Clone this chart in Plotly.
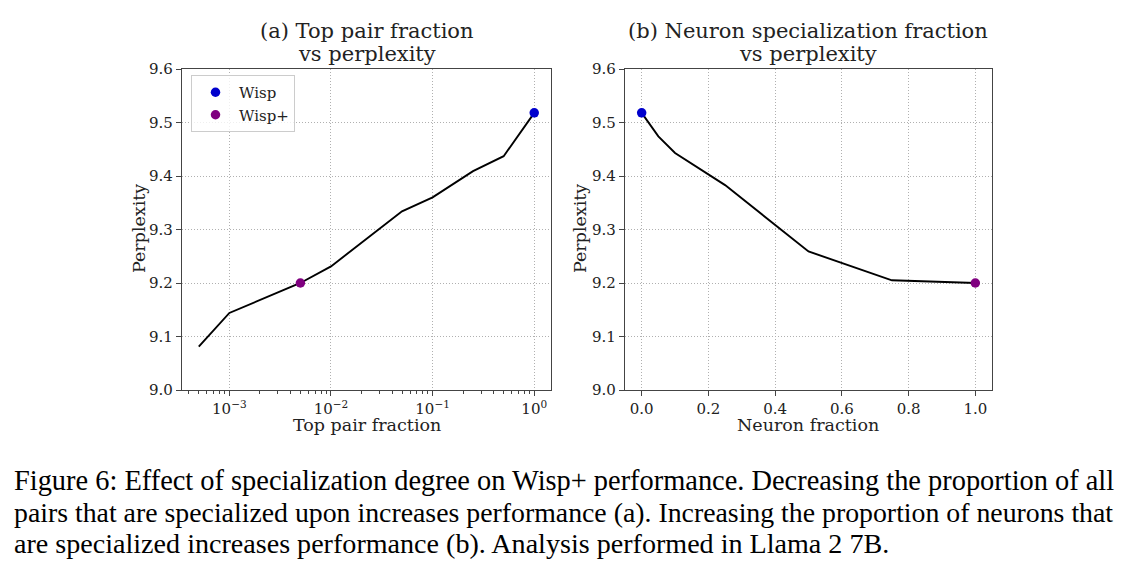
import plotly.graph_objects as go

# (a) top pair fraction vs perplexity
pair_frac = [0.0005, 0.001, 0.005, 0.01, 0.05, 0.1, 0.25, 0.5, 1.0]
pair_ppl = [9.081, 9.144, 9.200, 9.231, 9.334, 9.360, 9.409, 9.437, 9.518]

# (b) neuron specialization fraction vs perplexity
neuron_frac = [0.0, 0.05, 0.1, 0.25, 0.5, 0.75, 1.0]
neuron_ppl = [9.518, 9.474, 9.443, 9.383, 9.259, 9.205, 9.200]

# highlighted points
wisp_pair, wisp_pair_ppl = [1.0], [9.518]
wispp_pair, wispp_pair_ppl = [0.005], [9.200]
wisp_neuron, wisp_neuron_ppl = [0.0], [9.518]
wispp_neuron, wispp_neuron_ppl = [1.0], [9.200]

y_ticks = [9.0, 9.1, 9.2, 9.3, 9.4, 9.5, 9.6]
log_ticks = [0.001, 0.01, 0.1, 1.0]
log_labels = ["10<sup>\u22123</sup>", "10<sup>\u22122</sup>", "10<sup>\u22121</sup>", "10<sup>0</sup>"]
lin_ticks = [0.0, 0.2, 0.4, 0.6, 0.8, 1.0]

minor_vals = [m * 10 ** e for e in (-4, -3, -2, -1, 0) for m in range(2, 10)]

SERIF = "DejaVu Serif"
BLUE = "#0000cd"
PURPLE = "#800080"
W, H = 1129, 568
OFF = 8  # page body margin


def px(x):
    return (x - OFF) / W


def py(y):
    return 1 - (y - OFF) / H


fig = go.Figure()

fig.add_trace(go.Scatter(x=pair_frac, y=pair_ppl, mode="lines",
                         line=dict(color="black", width=1.9), showlegend=False,
                         xaxis="x", yaxis="y"))
fig.add_trace(go.Scatter(x=wisp_pair, y=wisp_pair_ppl, mode="markers", name="Wisp",
                         marker=dict(color=BLUE, size=9.5), xaxis="x", yaxis="y"))
fig.add_trace(go.Scatter(x=wispp_pair, y=wispp_pair_ppl, mode="markers", name="Wisp+",
                         marker=dict(color=PURPLE, size=9.5), xaxis="x", yaxis="y"))

fig.add_trace(go.Scatter(x=neuron_frac, y=neuron_ppl, mode="lines",
                         line=dict(color="black", width=1.9), showlegend=False,
                         xaxis="x2", yaxis="y2"))
fig.add_trace(go.Scatter(x=wisp_neuron, y=wisp_neuron_ppl, mode="markers", showlegend=False,
                         marker=dict(color=BLUE, size=9.5), xaxis="x2", yaxis="y2"))
fig.add_trace(go.Scatter(x=wispp_neuron, y=wispp_neuron_ppl, mode="markers", showlegend=False,
                         marker=dict(color=PURPLE, size=9.5), xaxis="x2", yaxis="y2"))

axis_common = dict(
    showline=True, linecolor="#444444", linewidth=1.2, mirror=True,
    ticks="outside", ticklen=5, tickwidth=1.2, tickcolor="#444444",
    showgrid=True, gridcolor="#b0b0b0", griddash="1px,2px", gridwidth=1,
    zeroline=False, tickfont=dict(family=SERIF, size=15, color="#222222"),
    automargin=False,
)

y_dom = [py(390), py(69)]

fig.update_layout(
    width=W, height=H,
    margin=dict(l=0, r=0, t=0, b=0, autoexpand=False),
    paper_bgcolor="white", plot_bgcolor="white",
    font=dict(family=SERIF, color="#222222"),
    xaxis=dict(domain=[px(182), px(551)], type="log",
               range=[-3.466, 0.165], tickvals=log_ticks, ticktext=log_labels,
               minor=dict(tickvals=minor_vals, ticks="outside", ticklen=3,
                          tickcolor="#444444", showgrid=False),
               anchor="y", **axis_common),
    yaxis=dict(domain=y_dom, range=[9.0, 9.6],
               tickvals=y_ticks, tickformat=".1f", anchor="x", **axis_common),
    xaxis2=dict(domain=[px(625), px(992)], range=[-0.05, 1.05],
                tickvals=lin_ticks, tickformat=".1f", anchor="y2", **axis_common),
    yaxis2=dict(domain=y_dom, range=[9.0, 9.6],
                tickvals=y_ticks, tickformat=".1f", anchor="x2", **axis_common),
    legend=dict(x=px(191), y=py(75), xanchor="left", yanchor="top",
                bgcolor="rgba(255,255,255,0.8)", bordercolor="#cccccc", borderwidth=1,
                font=dict(family=SERIF, size=15, color="#222222"),
                itemwidth=37, tracegroupgap=0),
)


def label(text, x, y, size, angle=0, family=SERIF):
    fig.add_annotation(text=text, x=px(x), y=py(y), xref="paper", yref="paper",
                       showarrow=False, textangle=angle, xanchor="center", yanchor="middle",
                       font=dict(family=family, size=size, color="#222222"))


label("(a) Top pair fraction", 367, 31, 21)
label("vs perplexity", 367, 54, 21)
label("(b) Neuron specialization fraction", 808, 31, 21)
label("vs perplexity", 808, 54, 21)
label("Top pair fraction", 367, 425, 17.5)
label("Neuron fraction", 808, 425, 17.5)
label("Perplexity", 139, 229, 17.5, angle=-90)
label("Perplexity", 580, 229, 17.5, angle=-90)

caption = [
    "Figure 6: Effect of specialization degree on Wisp+ performance. Decreasing the proportion of all",
    "pairs that are specialized upon increases performance (a). Increasing the proportion of neurons that",
    "are specialized increases performance (b). Analysis performed in Llama 2 7B.",
]
caption_sizes = [28.4, 27.8, 28.1]
for i, (line, size) in enumerate(zip(caption, caption_sizes)):
    fig.add_annotation(text=line, x=px(12), y=py(481 + 31 * i),
                       xref="paper", yref="paper", showarrow=False,
                       xanchor="left", yanchor="middle",
                       font=dict(family="Liberation Serif", size=size, color="black"))

fig.write_html("out.html")
